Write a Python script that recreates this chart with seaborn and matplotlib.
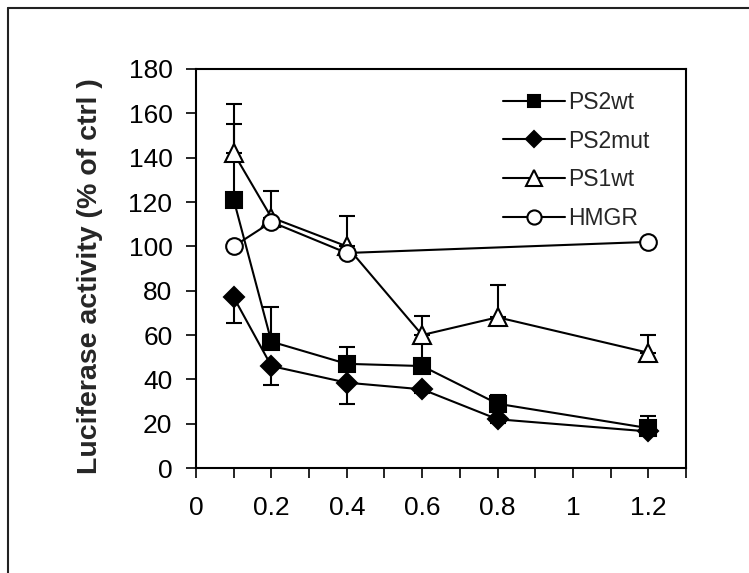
"""Luciferase activity vs dose, four constructs."""

import matplotlib

matplotlib.use("Agg")
import matplotlib.pyplot as plt
import numpy as np
import seaborn as sns
from matplotlib.lines import Line2D
from matplotlib.ticker import FuncFormatter, MultipleLocator

# data
dose = [0.1, 0.2, 0.4, 0.6, 0.8, 1.2]
ps2wt = [121, 57, 47, 46, 29, 18]
ps2mut = [77, 46, 38.5, 35.5, 22, 16.5]
ps1wt = [142, 113, 100, 60, 68, 52]
hmgr_dose = [0.1, 0.2, 0.4, 1.2]
hmgr = [100, 111, 97, 102]

# one-sided error bars
ps2wt_err_up = [34, 15.5, 7.5, 11, 4, 5.5]
ps2mut_err_down = [11.5, 8.5, 9.5, 1.5, 1.5, 1]
ps1wt_err_up = [22, 12, 13.5, 8.5, 14.5, 8]

series_names = ["PS2wt", "PS2mut", "PS1wt", "HMGR"]

sns.set_style("ticks")
plt.rcParams["font.family"] = ["Liberation Sans", "DejaVu Sans"]

fig = plt.figure(figsize=(7.49, 5.73), dpi=100)
ax = fig.add_axes([0.2617, 0.1832, 0.6542, 0.6964])

zeros = np.zeros(len(dose))

# error bars first, behind the markers
ax.errorbar(dose, ps2wt, yerr=[zeros, ps2wt_err_up], fmt="none", ecolor="black",
            elinewidth=1.5, capsize=5.6, capthick=1.5, zorder=2)
ax.errorbar(dose, ps1wt, yerr=[zeros, ps1wt_err_up], fmt="none", ecolor="black",
            elinewidth=1.5, capsize=5.6, capthick=1.5, zorder=2)
ax.errorbar(dose, ps2mut, yerr=[ps2mut_err_down, zeros], fmt="none", ecolor="black",
            elinewidth=1.5, capsize=5.6, capthick=1.5, zorder=2)

styles = {
    "PS2wt": dict(marker="s", markersize=11, markerfacecolor="black"),
    "PS2mut": dict(marker="D", markersize=10, markerfacecolor="black"),
    "PS1wt": dict(marker="^", markersize=13, markerfacecolor="white"),
    "HMGR": dict(marker="o", markersize=12, markerfacecolor="white"),
}
xs = {"PS2wt": dose, "PS2mut": dose, "PS1wt": dose, "HMGR": hmgr_dose}
ys = {"PS2wt": ps2wt, "PS2mut": ps2mut, "PS1wt": ps1wt, "HMGR": hmgr}

for name in series_names:
    sns.lineplot(
        x=xs[name],
        y=ys[name],
        ax=ax,
        color="black",
        linewidth=1.5,
        markeredgecolor="black",
        markeredgewidth=1.5,
        label=name,
        zorder=3,
        **styles[name],
    )

ax.set_xlim(0, 1.3)
ax.set_ylim(0, 180)
ax.yaxis.set_major_locator(MultipleLocator(20))
ax.xaxis.set_major_locator(MultipleLocator(0.1))
ax.xaxis.set_major_formatter(
    FuncFormatter(lambda v, p: f"{round(v, 1):g}" if round(v * 10) % 2 == 0 and v < 1.25 else "")
)

ax.tick_params(axis="both", direction="out", length=7, width=1.2, color="black",
               labelsize=19, labelcolor="black")
ax.tick_params(axis="x", pad=13)
ax.tick_params(axis="y", pad=10)
for sp in ax.spines.values():
    sp.set_linewidth(1.5)
    sp.set_color("black")

ax.set_xlabel("")
ax.set_ylabel("Luciferase activity (% of ctrl )", fontsize=20.5, fontweight="bold")
ax.yaxis.set_label_coords(-0.19, 0.48)

ax.legend(
    loc="upper left",
    bbox_to_anchor=(0.6265, 0.945),
    frameon=False,
    fontsize=16.5,
    handlelength=2.7,
    handletextpad=0.15,
    labelspacing=0.68,
    borderpad=0,
    borderaxespad=0,
    markerscale=0.85,
)

# outer frame (left and top edges visible in the reference)
fx = 8 / 749
fy = 1 - 8 / 573
fig.add_artist(Line2D([fx, fx], [0, fy], transform=fig.transFigure, color="#222222", lw=1.5))
fig.add_artist(Line2D([fx, 1], [fy, fy], transform=fig.transFigure, color="#222222", lw=1.5))

fig.savefig("out.png", dpi=100)
plt.close(fig)
